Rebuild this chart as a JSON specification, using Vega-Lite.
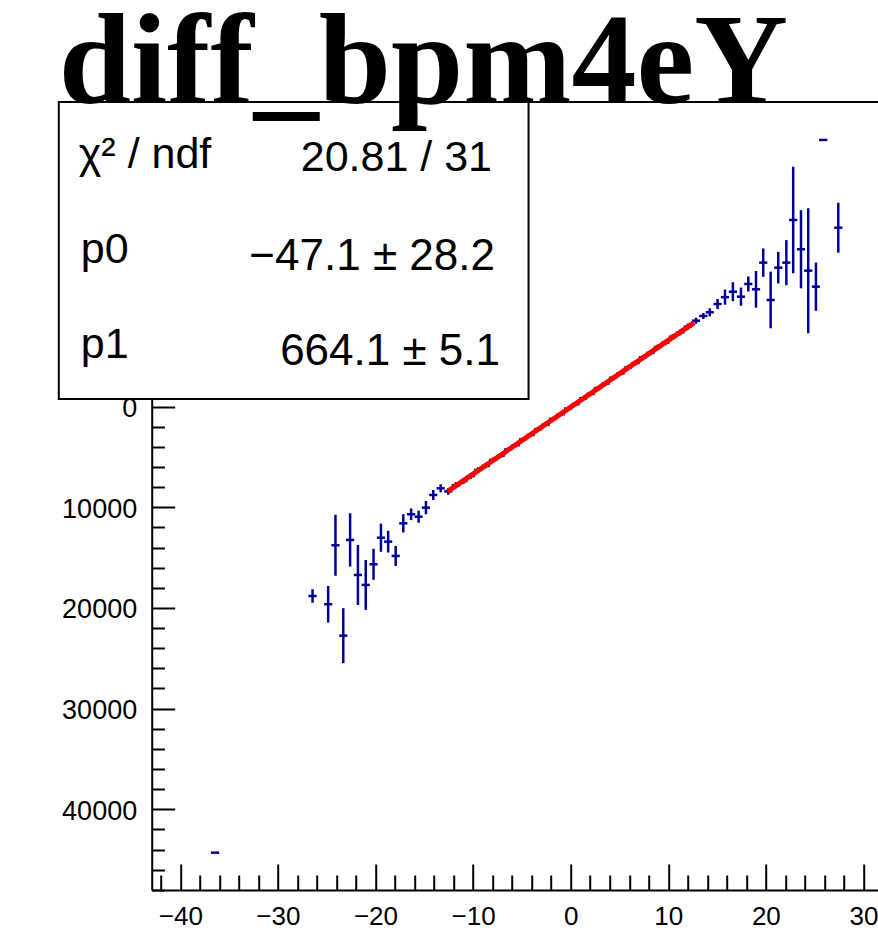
{
  "$schema": "https://vega.github.io/schema/vega-lite/v6.json",
  "width": 726.3,
  "height": 788,
  "autosize": {"type": "none"},
  "padding": {"left": 151.7, "top": 102, "right": 0, "bottom": 55},
  "background": "white",
  "config": {"view": {"stroke": null}, "font": "Liberation Sans"},
  "title": {
    "text": "diff_bpm4eY",
    "anchor": "start",
    "frame": "group",
    "font": "Liberation Serif",
    "fontSize": 130,
    "fontWeight": "bold",
    "color": "black",
    "baseline": "alphabetic",
    "offset": -140,
    "dx": -93,
    "zindex": 1
  },
  "data": {"values": [{}]},
  "datasets": {
    "points": [
      {"x": -36.44, "y": -44310, "ey": 0, "ex": 0.42},
      {"x": -26.45, "y": -18810, "ey": 670, "ex": 0.42},
      {"x": -24.85, "y": -19630, "ey": 1820, "ex": 0.42},
      {"x": -24.1, "y": -13770, "ey": 3030, "ex": 0.42},
      {"x": -23.3, "y": -22750, "ey": 2730, "ex": 0.42},
      {"x": -22.6, "y": -13240, "ey": 2650, "ex": 0.42},
      {"x": -21.8, "y": -16720, "ey": 2980, "ex": 0.42},
      {"x": -21.0, "y": -17710, "ey": 2480, "ex": 0.42},
      {"x": -20.2, "y": -15660, "ey": 1540, "ex": 0.42},
      {"x": -19.44, "y": -13020, "ey": 1400, "ex": 0.42},
      {"x": -18.7, "y": -13410, "ey": 1080, "ex": 0.42},
      {"x": -17.93, "y": -14830, "ey": 1000, "ex": 0.42},
      {"x": -17.15, "y": -11590, "ey": 910, "ex": 0.42},
      {"x": -16.35, "y": -10690, "ey": 580, "ex": 0.42},
      {"x": -15.58, "y": -10930, "ey": 600, "ex": 0.42},
      {"x": -14.83, "y": -10030, "ey": 660, "ex": 0.42},
      {"x": -14.08, "y": -8770, "ey": 500, "ex": 0.42},
      {"x": -13.32, "y": -8110, "ey": 400, "ex": 0.42},
      {"x": -12.54, "y": -8420, "ey": 330, "ex": 0.42},
      {"x": -11.77, "y": -7800, "ey": 300, "ex": 0.42},
      {"x": -11.0, "y": -7400, "ey": 290, "ex": 0.42},
      {"x": -10.24, "y": -6900, "ey": 270, "ex": 0.42},
      {"x": -9.47, "y": -6280, "ey": 260, "ex": 0.42},
      {"x": -8.7, "y": -5880, "ey": 240, "ex": 0.42},
      {"x": -7.94, "y": -5290, "ey": 230, "ex": 0.42},
      {"x": -7.17, "y": -4870, "ey": 220, "ex": 0.42},
      {"x": -6.4, "y": -4250, "ey": 210, "ex": 0.42},
      {"x": -5.63, "y": -3830, "ey": 200, "ex": 0.42},
      {"x": -4.87, "y": -3240, "ey": 200, "ex": 0.42},
      {"x": -4.1, "y": -2810, "ey": 190, "ex": 0.42},
      {"x": -3.33, "y": -2230, "ey": 190, "ex": 0.42},
      {"x": -2.57, "y": -1800, "ey": 180, "ex": 0.42},
      {"x": -1.8, "y": -1210, "ey": 180, "ex": 0.42},
      {"x": -1.03, "y": -760, "ey": 180, "ex": 0.42},
      {"x": -0.26, "y": -190, "ey": 180, "ex": 0.42},
      {"x": 0.5, "y": 250, "ey": 180, "ex": 0.42},
      {"x": 1.27, "y": 830, "ey": 180, "ex": 0.42},
      {"x": 2.04, "y": 1270, "ey": 180, "ex": 0.42},
      {"x": 2.8, "y": 1850, "ey": 190, "ex": 0.42},
      {"x": 3.57, "y": 2290, "ey": 190, "ex": 0.42},
      {"x": 4.34, "y": 2870, "ey": 200, "ex": 0.42},
      {"x": 5.11, "y": 3310, "ey": 200, "ex": 0.42},
      {"x": 5.87, "y": 3890, "ey": 210, "ex": 0.42},
      {"x": 6.64, "y": 4330, "ey": 220, "ex": 0.42},
      {"x": 7.41, "y": 4910, "ey": 230, "ex": 0.42},
      {"x": 8.17, "y": 5340, "ey": 240, "ex": 0.42},
      {"x": 8.94, "y": 5930, "ey": 250, "ex": 0.42},
      {"x": 9.71, "y": 6370, "ey": 260, "ex": 0.42},
      {"x": 10.47, "y": 6950, "ey": 270, "ex": 0.42},
      {"x": 11.24, "y": 7380, "ey": 290, "ex": 0.42},
      {"x": 12.01, "y": 7960, "ey": 300, "ex": 0.42},
      {"x": 12.84, "y": 8540, "ey": 300, "ex": 0.42},
      {"x": 13.59, "y": 9010, "ey": 300, "ex": 0.42},
      {"x": 14.25, "y": 9380, "ey": 400, "ex": 0.42},
      {"x": 15.05, "y": 10200, "ey": 500, "ex": 0.42},
      {"x": 15.81, "y": 10880, "ey": 750, "ex": 0.42},
      {"x": 16.62, "y": 11420, "ey": 940, "ex": 0.42},
      {"x": 17.45, "y": 10930, "ey": 900, "ex": 0.42},
      {"x": 18.2, "y": 12190, "ey": 750, "ex": 0.42},
      {"x": 18.99, "y": 11660, "ey": 1820, "ex": 0.42},
      {"x": 19.73, "y": 14310, "ey": 1410, "ex": 0.42},
      {"x": 20.49, "y": 10600, "ey": 2810, "ex": 0.42},
      {"x": 21.27, "y": 13810, "ey": 1570, "ex": 0.42},
      {"x": 22.1, "y": 14310, "ey": 2240, "ex": 0.42},
      {"x": 22.8, "y": 18550, "ey": 5300, "ex": 0.42},
      {"x": 23.6, "y": 15640, "ey": 3880, "ex": 0.42},
      {"x": 24.34, "y": 13510, "ey": 6210, "ex": 0.42},
      {"x": 25.13, "y": 11920, "ey": 2390, "ex": 0.42},
      {"x": 25.88, "y": 26500, "ey": 0, "ex": 0.42},
      {"x": 27.42, "y": 17780, "ey": 2480, "ex": 0.42}
    ],
    "fit": [
      {"x": -12.6, "y": -8415},
      {"x": 12.65, "y": 8354}
    ]
  },
  "layer": [
    {
      "data": {"name": "points"},
      "mark": {"type": "errorbar", "color": "#000099", "thickness": 2.5},
      "encoding": {
        "x": {
          "field": "x", "type": "quantitative",
          "scale": {"domain": [-42.93, 31.49], "nice": false, "zero": false},
          "axis": {
            "title": null,
            "grid": false,
            "tickCount": 200,
            "values": [-42, -40, -38, -36, -34, -32, -30, -28, -26, -24, -22, -20, -18, -16, -14, -12, -10, -8, -6, -4, -2, 0, 2, 4, 6, 8, 10, 12, 14, 16, 18, 20, 22, 24, 26, 28, 30],
            "format": "d",
            "labelExpr": "datum.value % 10 === 0 ? datum.label : ''",
            "tickSize": {"condition": {"test": "datum.value % 10 === 0", "value": -26}, "value": -15},
            "tickWidth": 2,
            "tickColor": "black",
            "domainColor": "black",
            "domainWidth": 2,
            "labelFont": "Liberation Sans",
            "labelFontSize": 26,
            "labelColor": "black",
            "labelPadding": 39,
            "labelFlush": false,
            "labelOverlap": false,
            "labelBound": false
          }
        },
        "y": {
          "field": "y", "type": "quantitative",
          "scale": {"domain": [-48020, 30270], "nice": false, "zero": false},
          "axis": {
            "title": null,
            "grid": false,
            "tickCount": 200,
            "values": [-48000, -46000, -44000, -42000, -40000, -38000, -36000, -34000, -32000, -30000, -28000, -26000, -24000, -22000, -20000, -18000, -16000, -14000, -12000, -10000, -8000, -6000, -4000, -2000, 0, 2000, 4000, 6000, 8000, 10000, 12000, 14000, 16000, 18000, 20000, 22000, 24000, 26000, 28000, 30000],
            "labelExpr": "datum.value % 10000 === 0 && datum.value <= 0 ? format(abs(datum.value), 'd') : ''",
            "tickSize": {"condition": {"test": "datum.value % 10000 === 0", "value": -23}, "value": -12.7},
            "tickWidth": 2,
            "tickColor": "black",
            "domainColor": "black",
            "domainWidth": 2,
            "labelFont": "Liberation Sans",
            "labelFontSize": 27,
            "labelColor": "black",
            "labelPadding": 38,
            "labelOffset": 2,
            "labelFlush": false,
            "labelOverlap": false,
            "labelBound": false
          }
        },
        "yError": {"field": "ey"}
      }
    },
    {
      "data": {"name": "points"},
      "mark": {"type": "errorbar", "color": "#000099", "thickness": 2.5},
      "encoding": {
        "x": {"field": "x", "type": "quantitative"},
        "xError": {"field": "ex"},
        "y": {"field": "y", "type": "quantitative"}
      }
    },
    {
      "data": {"name": "fit"},
      "mark": {"type": "line", "color": "#ff0000", "strokeWidth": 5},
      "encoding": {
        "x": {"field": "x", "type": "quantitative"},
        "y": {"field": "y", "type": "quantitative"}
      }
    },
    {
      "mark": {"type": "rect", "fill": "white", "stroke": "black", "strokeWidth": 2},
      "encoding": {
        "x": {"datum": -52.45, "type": "quantitative"},
        "x2": {"datum": -4.32},
        "y": {"datum": 30270, "type": "quantitative"},
        "y2": {"datum": 765}
      }
    },
    {
      "mark": {"type": "text", "text": "χ² / ndf", "align": "left", "baseline": "alphabetic", "font": "Liberation Sans", "fontSize": 43, "color": "black"},
      "encoding": {
        "x": {"datum": -50.4, "type": "quantitative"},
        "y": {"datum": 23685, "type": "quantitative"}
      }
    },
    {
      "mark": {"type": "text", "text": "20.81 / 31", "align": "right", "baseline": "alphabetic", "font": "Liberation Sans", "fontSize": 43, "color": "black"},
      "encoding": {
        "x": {"datum": -8.06, "type": "quantitative"},
        "y": {"datum": 23447, "type": "quantitative"}
      }
    },
    {
      "mark": {"type": "text", "text": "p0", "align": "left", "baseline": "alphabetic", "font": "Liberation Sans", "fontSize": 43, "color": "black"},
      "encoding": {
        "x": {"datum": -50.2, "type": "quantitative"},
        "y": {"datum": 14247, "type": "quantitative"}
      }
    },
    {
      "mark": {"type": "text", "text": "−47.1 ± 28.2", "align": "right", "baseline": "alphabetic", "font": "Liberation Sans", "fontSize": 44, "color": "black"},
      "encoding": {
        "x": {"datum": -7.76, "type": "quantitative"},
        "y": {"datum": 13581, "type": "quantitative"}
      }
    },
    {
      "mark": {"type": "text", "text": "p1", "align": "left", "baseline": "alphabetic", "font": "Liberation Sans", "fontSize": 43, "color": "black"},
      "encoding": {
        "x": {"datum": -50.2, "type": "quantitative"},
        "y": {"datum": 4838, "type": "quantitative"}
      }
    },
    {
      "mark": {"type": "text", "text": "664.1 ± 5.1", "align": "right", "baseline": "alphabetic", "font": "Liberation Sans", "fontSize": 44, "color": "black"},
      "encoding": {
        "x": {"datum": -7.24, "type": "quantitative"},
        "y": {"datum": 4143, "type": "quantitative"}
      }
    },
    {
      "mark": {"type": "rule", "color": "black", "strokeWidth": 2},
      "encoding": {
        "y": {"datum": 30270, "type": "quantitative"}
      }
    }
  ]
}
